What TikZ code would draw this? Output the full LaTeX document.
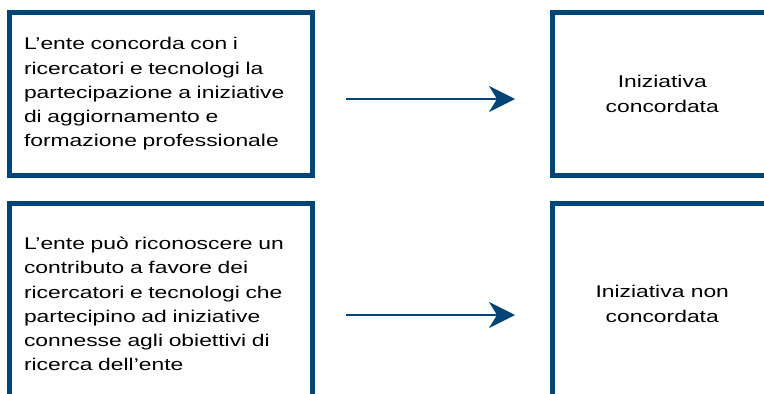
\documentclass[tikz,border=0pt]{standalone}
\usepackage{fontspec}
\setmainfont{Liberation Sans}[FakeStretch=1.345]
\usetikzlibrary{arrows.meta}
\definecolor{boxblue}{RGB}{0,69,117}
\tikzset{
  textbox/.style={draw=boxblue, line width=5pt, rectangle, inner xsep=14.5pt,
    font=\fontsize{17}{24.3}\selectfont},
  leftbox/.style={textbox, minimum width=303pt, text width=274pt, align=left},
  rightbox/.style={textbox, minimum width=219.5pt, align=center},
  flow/.style={draw=boxblue, line width=2pt,
    -{Stealth[length=26pt, width=26pt, inset=8pt]}}
}
\begin{document}
\begin{tikzpicture}[x=1pt,y=-1pt]
\useasboundingbox (0,0) rectangle (764,394);
\clip (0,0) rectangle (764,394);
\node[leftbox, minimum height=163pt] (ente1) at (161,94)
  {L’ente concorda con i\\ricercatori e tecnologi la\\partecipazione a iniziative\\di aggiornamento e\\formazione professionale};
\node[rightbox, minimum height=163pt] (ini1) at (662.25,94)
  {Iniziativa\\concordata};
\node[leftbox, minimum height=201pt] (ente2) at (161,304)
  {L’ente può riconoscere un\\contributo a favore dei\\ricercatori e tecnologi che\\partecipino ad iniziative\\connesse agli obiettivi di\\ricerca dell’ente};
\node[rightbox, minimum height=201pt] (ini2) at (662.25,304)
  {Iniziativa non\\concordata};
\draw[flow] ([xshift=31pt,yshift=-5pt]ente1.east) -- ([xshift=-35pt,yshift=-5pt]ini1.west);
\draw[flow] ([xshift=31pt,yshift=-11pt]ente2.east) -- ([xshift=-35pt,yshift=-11pt]ini2.west);
\end{tikzpicture}
\end{document}
